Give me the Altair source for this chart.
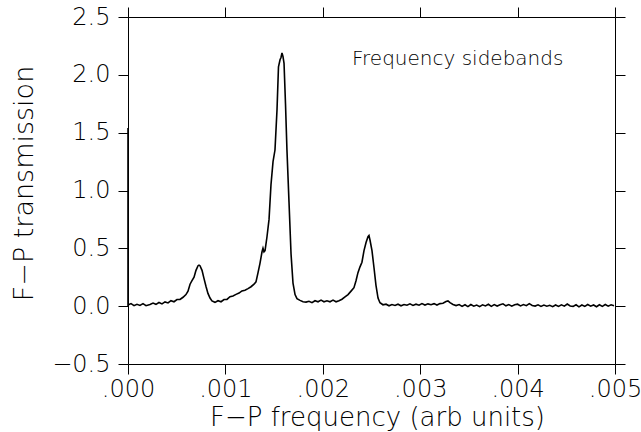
import altair as alt
import pandas as pd

# frequency in units of 1e-3 (arb units), transmission
freq_k = [
    0.000, 0.000, 0.031, 0.062, 0.092, 0.123, 0.154, 0.185, 0.226, 0.257, 0.287,
    0.318, 0.349, 0.380, 0.411, 0.441, 0.472, 0.503, 0.534, 0.565, 0.595,
    0.616, 0.637, 0.657, 0.678, 0.698, 0.719, 0.729, 0.739, 0.760, 0.780,
    0.801, 0.821, 0.842, 0.862, 0.893, 0.924, 0.955, 0.986, 1.016, 1.047,
    1.078, 1.109, 1.140, 1.170, 1.201, 1.232, 1.263, 1.294, 1.314, 1.335,
    1.355, 1.376, 1.386, 1.396, 1.407, 1.427, 1.448, 1.468, 1.489, 1.509,
    1.530, 1.545, 1.561, 1.571, 1.581, 1.591, 1.602, 1.617, 1.632, 1.653,
    1.674, 1.694, 1.715, 1.735, 1.766, 1.797, 1.828, 1.858, 1.889, 1.920,
    1.951, 1.982, 2.012, 2.043, 2.074, 2.105, 2.136, 2.166, 2.197, 2.228,
    2.259, 2.290, 2.320, 2.341, 2.361, 2.382, 2.402, 2.423, 2.444, 2.464,
    2.474, 2.485, 2.505, 2.526, 2.546, 2.567, 2.587, 2.618, 2.649, 2.680,
    2.710, 2.741, 2.772, 2.803, 2.834, 2.864, 2.895, 2.926, 2.957, 2.988,
    3.018, 3.049, 3.080, 3.111, 3.142, 3.172, 3.203, 3.234, 3.265, 3.285,
    3.306, 3.337, 3.368,
    3.40, 3.43, 3.46, 3.49, 3.52, 3.55, 3.58, 3.61, 3.64, 3.67, 3.70, 3.73,
    3.76, 3.79, 3.82, 3.85, 3.88, 3.91, 3.94, 3.97, 4.00, 4.03, 4.06, 4.09,
    4.12, 4.15, 4.18, 4.21, 4.24, 4.27, 4.30, 4.33, 4.36, 4.39, 4.42, 4.45,
    4.48, 4.51, 4.54, 4.57, 4.60, 4.63, 4.66, 4.69, 4.72, 4.75, 4.78, 4.81,
    4.84, 4.87, 4.90, 4.93, 4.96, 4.99,
]
trans = [
    1.54, 0.010, 0.022, 0.004, 0.016, 0.006, 0.022, 0.004, 0.014, 0.027, 0.016,
    0.032, 0.020, 0.037, 0.028, 0.047, 0.038, 0.057, 0.058, 0.077, 0.100,
    0.130, 0.190, 0.220, 0.250, 0.310, 0.350, 0.355, 0.350, 0.310, 0.240,
    0.170, 0.110, 0.070, 0.045, 0.033, 0.047, 0.038, 0.057, 0.058, 0.082,
    0.088, 0.102, 0.113, 0.132, 0.138, 0.152, 0.168, 0.190, 0.210, 0.290,
    0.370, 0.470, 0.500, 0.470, 0.480, 0.600, 0.750, 1.050, 1.250, 1.350,
    1.700, 2.070, 2.130, 2.150, 2.190, 2.160, 2.100, 1.750, 1.350, 0.900,
    0.450, 0.200, 0.100, 0.065, 0.050, 0.038, 0.035, 0.042, 0.030, 0.047,
    0.038, 0.052, 0.038, 0.047, 0.038, 0.052, 0.038, 0.047, 0.060, 0.080,
    0.100, 0.130, 0.160, 0.220, 0.290, 0.340, 0.380, 0.480, 0.550, 0.600,
    0.610, 0.570, 0.480, 0.330, 0.180, 0.070, 0.030, 0.012, 0.017, 0.003,
    0.014, 0.006, 0.017, 0.003, 0.014, 0.008, 0.020, 0.006, 0.017, 0.008,
    0.022, 0.010, 0.020, 0.013, 0.022, 0.010, 0.022, 0.025, 0.040, 0.045,
    0.030, 0.015, 0.005,
    0.014, -0.002, 0.012, -0.004, 0.014, 0.000, 0.010, -0.004, 0.012, 0.002, 0.016, -0.002,
    0.014, 0.001, 0.012, 0.020, 0.003, 0.014, 0.000, 0.012, 0.017, 0.002, 0.014, 0.004,
    0.022, 0.006, 0.001, 0.012, -0.002, 0.010, 0.000, 0.008, -0.004, 0.010, -0.002, 0.012,
    0.000, 0.018, 0.002, -0.002, 0.012, -0.006, 0.010, -0.002, 0.014, 0.000, 0.010, -0.005,
    0.012, -0.002, 0.014, 0.000, 0.012, 0.004,
]

x_ticks = [0.0, 0.001, 0.002, 0.003, 0.004, 0.005]
y_ticks = [-0.5, 0.0, 0.5, 1.0, 1.5, 2.0, 2.5]
note_text = "Frequency sidebands"

df = pd.DataFrame({
    "f": [v / 1000 for v in freq_k],
    "t": trans,
    "i": list(range(len(trans))),
})

FONT = "DejaVu Sans"
xscale = alt.Scale(domain=[0, 0.005], nice=False, zero=False)
yscale = alt.Scale(domain=[-0.5, 2.5], nice=False, zero=False)

common = dict(
    domainColor="black", tickColor="black", domainWidth=1, tickWidth=1,
    tickSize=10, grid=False, labelFont=FONT, labelFontSize=24,
    labelColor="black", labelFontWeight=200, titleFont=FONT,
    titleColor="black", titleFontWeight=200,
)

line = alt.Chart(df).mark_line(color="black", strokeWidth=1.6).encode(
    x=alt.X("f:Q", scale=xscale, axis=alt.Axis(
        orient="bottom", values=x_ticks,
        labelExpr="slice(format(datum.value, '.3f'), 1)",
        labelPadding=3, labelFlush=False, labelOverlap=False,
        title="F\u2212P frequency (arb units)", titleFontSize=26,
        titleX=249, titleY=61, titleBaseline="alphabetic", **common)),
    y=alt.Y("t:Q", scale=yscale, axis=alt.Axis(
        orient="left", values=y_ticks, format=".1f", labelPadding=8,
        labelFlush=False, labelOverlap=False,
        title="F\u2212P transmission", titleAngle=-90, titleFontSize=27,
        titleX=-96, titleY=166, titleBaseline="alphabetic", **common)),
    order="i:Q",
)

frame = alt.Chart(df).mark_point(opacity=0, size=1).encode(
    x=alt.X("f:Q", scale=xscale, axis=alt.Axis(
        orient="top", values=x_ticks, labels=False, title=None, **common)),
    y=alt.Y("t:Q", scale=yscale, axis=alt.Axis(
        orient="right", values=y_ticks, labels=False, title=None, **common)),
)

note = alt.Chart(pd.DataFrame({"label": [note_text]})).mark_text(
    font=FONT, fontSize=20, fontWeight=200, color="black",
    align="left", baseline="alphabetic",
).encode(x=alt.value(224), y=alt.value(48), text="label:N")

chart = alt.layer(line, frame, note).resolve_axis(
    x="independent", y="independent"
).properties(
    width=487, height=347,
    autosize=alt.AutoSizeParams(type="none"),
    padding={"left": 128, "top": 17, "right": 26, "bottom": 68},
    background="white",
).configure_view(stroke=None)

chart.save("out.html", embed_options={"renderer": "svg", "actions": False})
